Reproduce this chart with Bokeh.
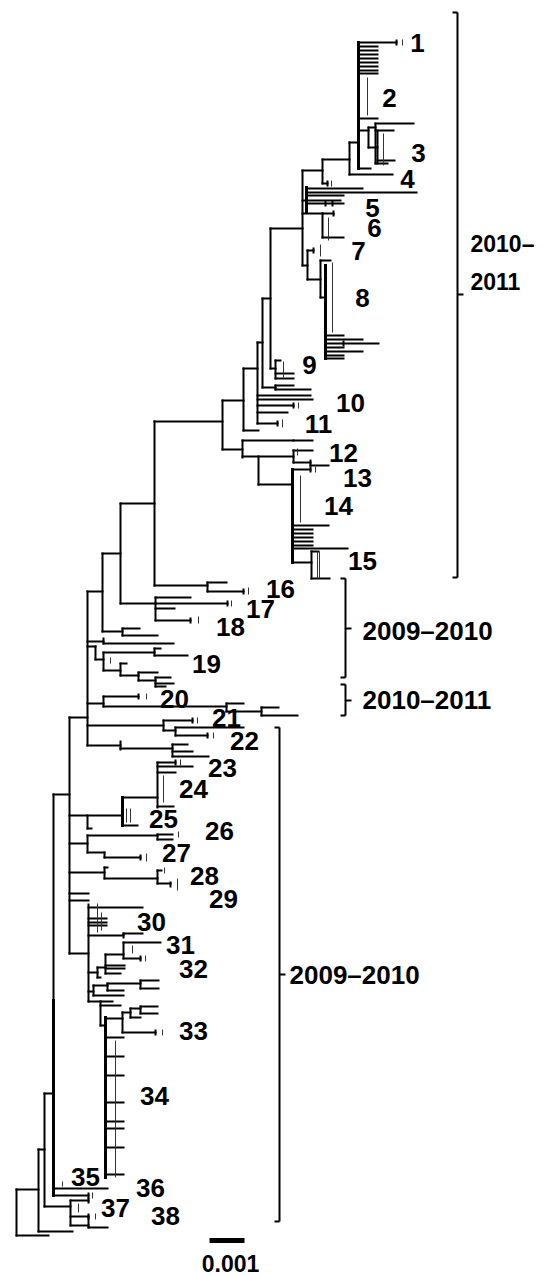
from bokeh.plotting import figure
from bokeh.models import Range1d
from bokeh.embed import file_html
from bokeh.resources import INLINE
from bokeh.core.properties import value

# ---------------------------------------------------------------
# Phylogenetic tree.
# x = genetic distance (drawing units, 35 units = 0.001 subst./site)
# y = vertical layout position of tips / nodes
# ---------------------------------------------------------------

# horizontal branches: (y, x_start, x_end)
h_root = [(1235, 16, 48), (1189, 16, 38), (1231, 38, 72), (1149, 38, 44),
          (1206, 44, 70), (1093, 44, 53), (1188, 53, 107), (1195, 53, 88),
          (794, 53, 69), (1200, 70, 88), (1216, 70, 88), (1225, 70, 88),
          (1227, 88, 107)]
h_mid = [(717, 69, 87), (591, 87, 102), (641, 87, 103), (646, 87, 95),
         (703, 87, 103), (725, 87, 163), (745, 87, 120),
         (553, 102, 120), (631, 102, 122), (628, 122, 139), (635, 122, 157),
         (503, 120, 154), (603, 120, 155), (421, 154, 222), (585, 154, 207),
         (582, 207, 226), (591, 207, 243),
         (597, 155, 190), (603, 155, 227), (608, 155, 174), (620, 155, 190)]
h_19_23 = [(643, 103, 173), (659, 95, 103), (652, 103, 154), (648, 154, 160),
           (655, 154, 187), (670, 103, 120), (663, 120, 126), (675, 120, 138),
           (672, 138, 157), (680, 138, 155), (677, 155, 170), (683, 155, 173),
           (686, 155, 165),
           (696, 103, 138), (706, 103, 226), (703, 226, 243), (711, 226, 261),
           (707, 261, 278), (715, 261, 297),
           (720, 163, 192), (730, 163, 175), (727, 175, 243), (735, 175, 207),
           (748, 120, 172), (744, 172, 187), (751, 172, 192), (756, 172, 208)]
h_24_29 = [(815, 69, 122), (828, 87, 91), (797, 122, 157), (825, 122, 137),
           (762, 157, 175), (766, 157, 192), (772, 157, 175), (806, 157, 173),
           (843, 69, 87), (835, 87, 157), (834, 157, 172), (839, 157, 172),
           (852, 87, 104), (857, 104, 140),
           (872, 69, 104), (867, 104, 107), (878, 104, 157), (870, 157, 161),
           (883, 157, 170),
           (893, 69, 88), (900, 69, 88)]
h_30_34 = [(953, 69, 88), (907, 88, 142), (918, 88, 106), (922, 88, 106),
           (925, 88, 106), (935, 88, 123), (933, 123, 142),
           (972, 88, 97), (967, 97, 105), (977, 97, 100), (954, 105, 123),
           (942, 123, 160), (958, 123, 140), (965, 105, 124), (968, 105, 124),
           (973, 105, 120),
           (985, 93, 107), (995, 93, 123), (991, 88, 93), (983, 107, 140),
           (990, 107, 123), (980, 140, 158), (988, 140, 158),
           (1001, 88, 100), (1001, 100, 112), (1005, 100, 120), (1025, 100, 105),
           (1018, 105, 122), (1012, 122, 130), (1008, 130, 140), (1006, 140, 157),
           (1013, 140, 157), (1017, 130, 140), (1032, 122, 155), (1037, 105, 123),
           (1056, 105, 123), (1075, 105, 123), (1102, 105, 123), (1121, 105, 123),
           (1128, 105, 123), (1147, 105, 123), (1174, 105, 123)]
h_top = [(400, 222, 243), (449, 222, 242), (368, 243, 257), (430, 243, 258),
         (342, 257, 262), (395, 257, 310), (399, 257, 312), (405, 257, 293),
         (412, 257, 287), (423, 257, 277),
         (298, 262, 270), (387, 262, 275), (385, 275, 293), (389, 275, 310),
         (228, 270, 302), (368, 270, 275),
         (373, 275, 293), (378, 275, 293), (360, 275, 280),
         (170, 302, 322), (200, 302, 306), (213, 302, 322), (265, 302, 307),
         (188, 306, 362), (192, 306, 416), (195, 306, 343), (200, 306, 340),
         (203, 306, 343),
         (213, 322, 333), (237, 322, 343),
         (250, 307, 313), (279, 307, 320),
         (260, 320, 330), (297, 320, 325),
         (335, 325, 343), (339, 325, 362), (343, 325, 378), (347, 325, 343),
         (351, 325, 362), (355, 325, 343), (358, 325, 343),
         (159, 322, 349), (183, 322, 327), (142, 349, 358), (174, 349, 392),
         (42, 358, 396), (46, 358, 377), (50, 358, 377), (54, 358, 377),
         (58, 358, 377), (62, 358, 377), (66, 358, 377), (70, 358, 377),
         (73, 358, 377), (118, 358, 377), (130, 358, 368), (127, 368, 375),
         (147, 368, 377), (123, 375, 413), (130, 375, 393), (160, 377, 394),
         (163, 375, 387), (168, 358, 370)]
h_12_15 = [(440, 242, 293), (440, 293, 312), (456, 242, 293), (450, 293, 312),
           (462, 293, 310), (465, 310, 328), (484, 258, 292),
           (469, 292, 310), (525, 292, 328), (529, 292, 312), (533, 292, 312),
           (537, 292, 312), (541, 292, 312), (545, 292, 312), (548, 292, 347),
           (562, 292, 311), (551, 311, 318), (578, 311, 329)]

# vertical connectors: (x, y_top, y_bottom)
v_thin = [(16, 1189, 1235), (38, 1149, 1231), (44, 1093, 1206), (53, 794, 1000),
          (70, 1200, 1225), (88, 1216, 1227),
          (69, 717, 953), (87, 591, 745), (102, 553, 631), (122, 628, 635),
          (120, 503, 603), (154, 421, 585), (207, 582, 591), (155, 597, 620),
          (103, 638, 643), (95, 646, 659), (103, 652, 670), (154, 648, 655),
          (120, 663, 675), (138, 672, 680), (155, 677, 686),
          (103, 696, 706), (226, 703, 711), (261, 707, 715),
          (163, 720, 730), (175, 727, 735), (120, 741, 749), (172, 744, 756),
          (87, 815, 828), (157, 762, 807), (87, 835, 852), (157, 834, 839),
          (104, 852, 857), (104, 867, 878), (157, 870, 883),
          (88, 904, 1001), (123, 933, 937), (97, 967, 977), (105, 954, 973),
          (123, 942, 958), (93, 985, 995), (107, 983, 990), (140, 980, 988),
          (100, 1001, 1025), (122, 1012, 1032), (130, 1008, 1017), (140, 1006, 1013),
          (222, 400, 449), (243, 368, 430), (257, 342, 423), (262, 298, 387),
          (275, 385, 389), (270, 228, 368), (275, 360, 378),
          (302, 170, 265), (322, 213, 237), (307, 250, 279), (320, 260, 297),
          (322, 159, 183), (349, 142, 174), (368, 127, 147), (375, 123, 163),
          (377, 130, 163),
          (242, 440, 457), (258, 456, 484), (293, 450, 462), (310, 460, 465),
          (311, 551, 578)]
v_thick = [(53, 1000, 1195), (122, 797, 825), (105, 1017, 1177), (306, 187, 212),
           (325, 265, 358), (358, 42, 168), (292, 469, 562)]

# collapsed-clade end bars (x, y) and thin bracket marks (x, y_top, y_bottom)
t_ends = [(88, 1200), (88, 1216), (88, 1195), (243, 591), (227, 603), (190, 620),
          (138, 696), (192, 720), (207, 735), (175, 762), (140, 857), (170, 884),
          (140, 958), (155, 1032), (293, 405), (277, 423), (313, 250), (327, 183),
          (396, 42), (310, 469), (325, 203), (332, 203), (333, 213), (343, 343)]
t_marks = [(62, 1181, 1186), (92, 1192, 1198), (78, 1203, 1212), (95, 1213, 1219),
           (248, 587, 594), (231, 600, 606), (198, 616, 623), (110, 657, 663),
           (146, 693, 699), (197, 717, 723), (213, 732, 738), (126, 808, 822),
           (130, 808, 822), (180, 759, 765), (163, 775, 802), (178, 831, 837),
           (146, 853, 861), (164, 867, 873), (177, 878, 890), (97, 903, 932),
           (101, 912, 930), (145, 955, 961), (132, 945, 953), (162, 1029, 1035),
           (115, 1040, 1177), (298, 402, 408), (282, 419, 427), (283, 361, 377),
           (328, 217, 240), (320, 244, 256), (332, 262, 332), (331, 180, 186),
           (402, 39, 45), (367, 77, 115), (383, 133, 165), (297, 448, 455),
           (300, 475, 522), (315, 466, 472), (317, 551, 578), (319, 551, 578)]

# strain group labels
group_labels = [str(i) for i in range(1, 39)]
group_x = [417, 389, 418, 407, 372, 374, 358, 362, 309, 350, 318, 343, 357, 338,
           362, 280, 260, 230, 206, 174, 226, 244, 222, 193, 163, 219, 176, 204,
           223, 151, 180, 193, 193, 154, 85, 150, 115, 165]
group_y = [42, 97, 152, 178, 207, 227, 250, 297, 364, 402, 423, 452, 477, 505,
           560, 588, 608, 626, 663, 698, 717, 740, 767, 788, 818, 830, 852, 875,
           898, 921, 944, 968, 1030, 1095, 1176, 1187, 1207, 1215]

# season brackets
season_x = [457, 345, 345, 279]
season_top = [12, 578, 684, 727]
season_bottom = [577, 677, 715, 1221]
season_mid = [294, 628, 700, 974]
season_text = ["2009–2010", "2010–2011", "2009–2010"]
season_text_x = [362, 362, 289]
season_text_y = [630, 699, 974]
top_season_text = ["2010–", "2011"]
top_season_x = [470, 470]
top_season_y = [243, 281]

scale_bar_len = 35      # drawing units for 0.001
scale_bar_label = "0.001"

# ---------------------------------------------------------------
W, H = 542, 1276
p = figure(width=W, height=H, x_range=Range1d(0, W), y_range=Range1d(H, 0),
           output_backend="svg", toolbar_location=None, min_border=0,
           x_axis_location=None, y_axis_location=None, outline_line_color=None)
p.grid.visible = False

hs = h_root + h_mid + h_19_23 + h_24_29 + h_30_34 + h_top + h_12_15
p.segment(x0=[h[1] for h in hs], y0=[h[0] for h in hs],
          x1=[h[2] for h in hs], y1=[h[0] for h in hs],
          line_color="black", line_width=2, line_cap="square")
p.segment(x0=[v[0] for v in v_thin], y0=[v[1] for v in v_thin],
          x1=[v[0] for v in v_thin], y1=[v[2] for v in v_thin],
          line_color="black", line_width=2, line_cap="square")
p.segment(x0=[v[0] for v in v_thick], y0=[v[1] for v in v_thick],
          x1=[v[0] for v in v_thick], y1=[v[2] for v in v_thick],
          line_color="black", line_width=3, line_cap="square")
p.segment(x0=[t[0] for t in t_ends], y0=[t[1] - 3 for t in t_ends],
          x1=[t[0] for t in t_ends], y1=[t[1] + 3 for t in t_ends],
          line_color="black", line_width=2)
p.segment(x0=[t[0] for t in t_marks], y0=[t[1] for t in t_marks],
          x1=[t[0] for t in t_marks], y1=[t[2] for t in t_marks],
          line_color="#333333", line_width=1)

p.text(x=group_x, y=group_y, text=group_labels, text_align="center",
       text_baseline="middle", text_font=value("Liberation Sans"),
       text_font_style="bold", text_font_size="26px", text_color="black")

# season brackets
bx0, by0, bx1, by1 = [], [], [], []
for x, t, b, m in zip(season_x, season_top, season_bottom, season_mid):
    bx0 += [x, x - 5, x - 5, x]
    bx1 += [x, x, x, x + 6]
    by0 += [t, t, b, m]
    by1 += [b, t, b, m]
p.segment(x0=bx0, y0=by0, x1=bx1, y1=by1, line_color="black", line_width=2)
p.text(x=season_text_x, y=season_text_y, text=season_text, text_align="left",
       text_baseline="middle", text_font=value("Liberation Sans"),
       text_font_style="bold", text_font_size="26px", text_color="black")
p.text(x=top_season_x, y=top_season_y, text=top_season_text, text_align="left",
       text_baseline="middle", text_font=value("Liberation Sans"),
       text_font_style="bold", text_font_size="23px", text_color="black")

# scale bar
p.segment(x0=[209], y0=[1240], x1=[209 + scale_bar_len], y1=[1240],
          line_color="black", line_width=5)
p.text(x=[230], y=[1263], text=[scale_bar_label], text_align="center",
       text_baseline="middle", text_font=value("Liberation Sans"),
       text_font_style="bold", text_font_size="23px", text_color="black")

open("out.html", "w").write(file_html(p, INLINE))
